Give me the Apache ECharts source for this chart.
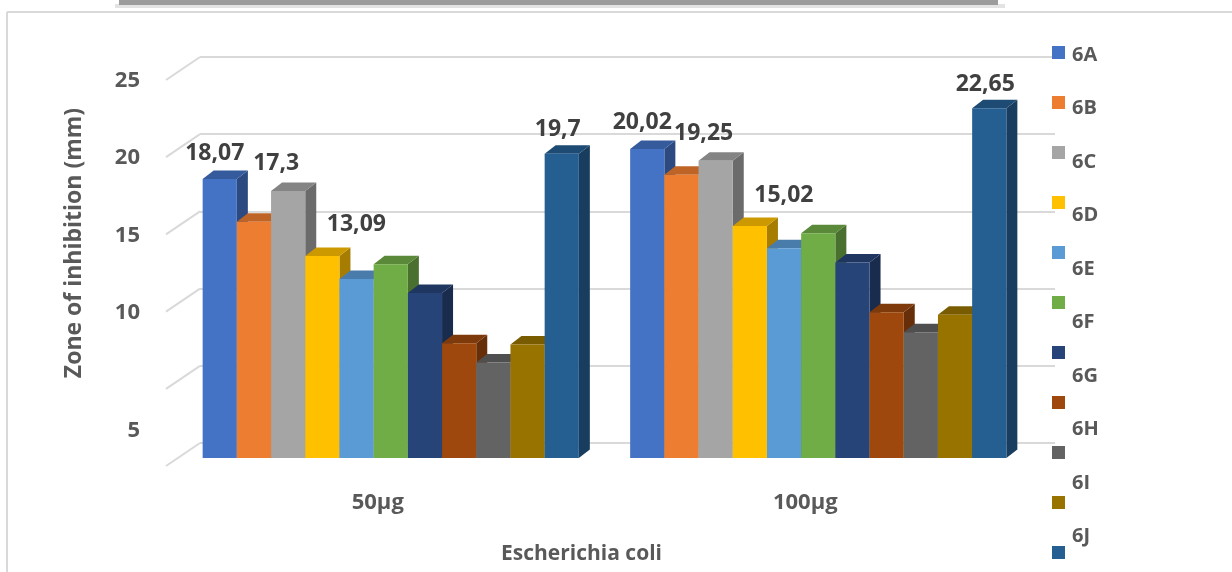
<!DOCTYPE html>
<html>
<head>
<meta charset="utf-8">
<title>Zone of inhibition</title>
<script src="https://cdn.jsdelivr.net/npm/echarts@6.0.0/dist/echarts.min.js"></script>
<style>
  html, body { margin: 0; padding: 0; background: #fff; }
  #chart { width: 1232px; height: 572px; }
</style>
</head>
<body>
<div id="chart"></div>
<script>
// data
const categories = ['50µg', '100µg'];
const seriesNames = ['6A', '6B', '6C', '6D', '6E', '6F', '6G', '6H', '6I', '6J', '6K'];
const legendLabels = ['6A', '6B', '6C', '6D', '6E', '6F', '6G', '6H', '6I', '6J'];
const values50 = [18.07, 15.3, 17.3, 13.09, 11.6, 12.55, 10.68, 7.44, 6.18, 7.35, 19.7];
const values100 = [20.02, 18.35, 19.25, 15.02, 13.58, 14.55, 12.67, 9.44, 8.14, 9.28, 22.65];
const yTicks = [0, 5, 10, 15, 20, 25];

const colors = ['#4472C4', '#ED7D31', '#A5A5A5', '#FFC000', '#5B9BD5', '#70AD47',
  '#264478', '#9E480E', '#636363', '#997300', '#255E91'];

// which bars carry a value label, and where it sits relative to the bar top
const labelOffsets = { '6A': [-5, -26], '6C': [-12, -27], '6D': [34, -31], '6K': [-4, -24] };

const FONT = '"Open Sans", "DejaVu Sans", sans-serif';
const TEXT_GREY = '#595959';
const GRID_LINE = '#d9d9d9';

// fake 3d: bars sit in front of the back wall
const FRONT_DX = -23;
const FRONT_DY = 15;
const DEPTH_X = 11;
const DEPTH_Y = 8.5;
const BAR_RATIO = 0.08;

function shade(hex, k) {
  const n = parseInt(hex.slice(1), 16);
  const r = Math.round(((n >> 16) & 255) * k);
  const g = Math.round(((n >> 8) & 255) * k);
  const b = Math.round((n & 255) * k);
  return 'rgb(' + r + ',' + g + ',' + b + ')';
}

function drawBar(i, params, api) {
  const cat = api.value(0);
  const val = api.value(1);
  const top = api.coord([cat, val]);
  const base = api.coord([cat, 0]);
  const band = api.size([1, 0])[0];
  const w = band * BAR_RATIO;
  const x = top[0] + FRONT_DX + (i - seriesNames.length / 2) * w;
  const yt = top[1] + FRONT_DY;
  const yb = base[1] + FRONT_DY;
  const c = colors[i];
  const children = [
    {
      type: 'polygon',
      shape: { points: [[x + w, yb], [x + w + DEPTH_X, yb - DEPTH_Y], [x + w + DEPTH_X, yt - DEPTH_Y], [x + w, yt]] },
      style: { fill: shade(c, 0.65) }
    },
    {
      type: 'polygon',
      shape: { points: [[x, yt], [x + DEPTH_X, yt - DEPTH_Y], [x + w + DEPTH_X, yt - DEPTH_Y], [x + w, yt]] },
      style: { fill: shade(c, 0.8) }
    },
    {
      type: 'rect',
      shape: { x: x, y: yt, width: w, height: yb - yt },
      style: { fill: c }
    }
  ];
  const off = labelOffsets[seriesNames[i]];
  if (off) {
    children.push({
      type: 'text',
      x: x + w / 2 + off[0],
      y: yt + off[1],
      style: {
        text: String(val).replace('.', ','),
        fill: '#404040',
        font: 'bold 23px ' + FONT,
        align: 'center',
        verticalAlign: 'middle'
      }
    });
  }
  return { type: 'group', children: children };
}

const chart = echarts.init(document.getElementById('chart'));

const barSeries = seriesNames.map(function (name, i) {
  return {
    type: 'custom',
    name: name,
    itemStyle: { color: colors[i] },
    clip: false,
    encode: { x: 0, y: 1 },
    data: categories.map(function (c, k) { return [k, k === 0 ? values50[i] : values100[i]]; }),
    renderItem: function (params, api) { return drawBar(i, params, api); }
  };
});

const option = {
  animation: false,
  backgroundColor: '#fff',
  grid: {
    left: 200,
    right: 177,
    top: 57,
    bottom: 129,
    outerBoundsMode: 'none'
  },
  xAxis: {
    type: 'category',
    data: categories,
    axisLine: { show: false },
    axisTick: { show: false },
    splitLine: { show: false },
    axisLabel: {
      margin: 49,
      padding: [0, 72, 0, 0],
      fontSize: 22,
      fontWeight: 'bold',
      fontFamily: FONT,
      color: TEXT_GREY
    },
    name: 'Escherichia coli',
    nameLocation: 'middle',
    nameGap: 101,
    nameTextStyle: {
      fontSize: 21,
      fontWeight: 'bold',
      fontFamily: FONT,
      color: TEXT_GREY,
      padding: [0, 92, 0, 0]
    }
  },
  yAxis: {
    type: 'value',
    min: 0,
    max: 25,
    interval: 5,
    axisLine: { show: false },
    axisTick: { show: false },
    splitLine: { lineStyle: { color: GRID_LINE, width: 2 } },
    axisLabel: {
      margin: 60,
      formatter: function (v) {
        if (v === 0) return '';
        if (v === 5) return '{low|5}';
        return '{n|' + v + '}';
      },
      rich: {
        n: { fontSize: 22, fontWeight: 'bold', fontFamily: FONT, color: TEXT_GREY, padding: [48, 0, 0, 0] },
        low: { fontSize: 22, fontWeight: 'bold', fontFamily: FONT, color: TEXT_GREY, padding: [129, 0, 0, 0] }
      }
    },
    name: 'Zone of inhibition (mm)',
    nameLocation: 'middle',
    nameGap: 114,
    nameTextStyle: {
      fontSize: 23,
      fontWeight: 'bold',
      fontFamily: FONT,
      color: TEXT_GREY,
      padding: [0, 0, 0, 14]
    }
  },
  legend: [
    {
      data: seriesNames,
      orient: 'vertical',
      left: 1052,
      top: 46,
      padding: 0,
      icon: 'rect',
      itemWidth: 13,
      itemHeight: 13,
      itemGap: 37,
      selectedMode: false,
      formatter: function () { return ''; },
      textStyle: { fontSize: 10, lineHeight: 13 }
    },
    {
      data: legendLabels,
      orient: 'vertical',
      left: 1063,
      top: 45,
      padding: 0,
      icon: 'none',
      itemWidth: 4,
      itemHeight: 20,
      itemGap: 33.5,
      selectedMode: false,
      textStyle: { fontSize: 20, lineHeight: 20, fontWeight: 'bold', fontFamily: FONT, color: TEXT_GREY }
    }
  ],
  graphic: [
    { type: 'rect', shape: { x: 115, y: 4, width: 890, height: 4 }, style: { fill: '#e3e3e3' }, silent: true },
    { type: 'rect', shape: { x: 119, y: 0, width: 879, height: 5 }, style: { fill: '#9c9c9c' }, silent: true },
    { type: 'line', shape: { x1: 7, y1: 12, x2: 1232, y2: 12 }, style: { stroke: GRID_LINE, lineWidth: 2 }, silent: true },
    { type: 'line', shape: { x1: 7, y1: 12, x2: 7, y2: 572 }, style: { stroke: GRID_LINE, lineWidth: 2 }, silent: true }
  ],
  series: [
    {
      // side wall lines, one per tick
      type: 'custom',
      silent: true,
      clip: false,
      encode: { x: 0, y: 1 },
      data: yTicks.map(function (v) { return [0, v]; }),
      renderItem: function (params, api) {
        const p = api.coord([0, api.value(1)]);
        const x0 = params.coordSys.x;
        return {
          type: 'line',
          shape: { x1: x0 - 34, y1: p[1] + 23, x2: x0, y2: p[1] },
          style: { stroke: GRID_LINE, lineWidth: 2 }
        };
      }
    }
  ].concat(barSeries)
};

chart.setOption(option);
</script>
</body>
</html>
